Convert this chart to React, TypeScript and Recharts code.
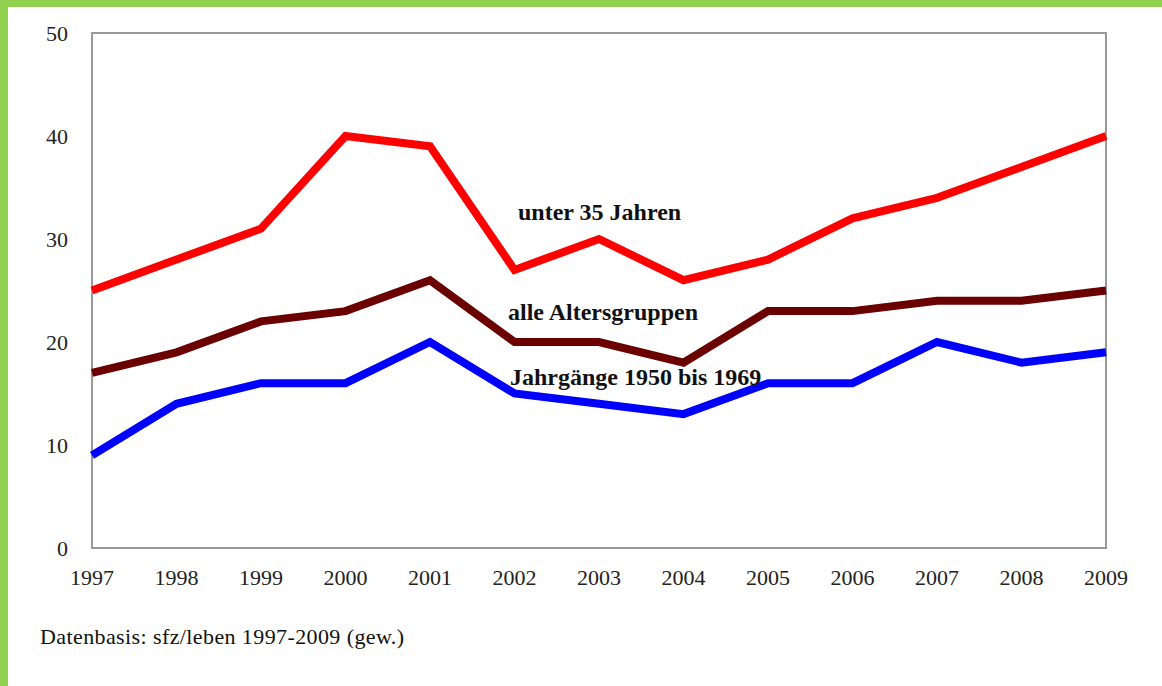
import { LineChart, Line, XAxis, YAxis, ReferenceArea } from 'recharts';

const years = [1997, 1998, 1999, 2000, 2001, 2002, 2003, 2004, 2005, 2006, 2007, 2008, 2009];
const unter35 = [25, 28, 31, 40, 39, 27, 30, 26, 28, 32, 34, 37, 40];
const alleGruppen = [17, 19, 22, 23, 26, 20, 20, 18, 23, 23, 24, 24, 25];
const jahrgaenge = [9, 14, 16, 16, 20, 15, 14, 13, 16, 16, 20, 18, 19];
const yTicks = [0, 10, 20, 30, 40, 50];

const data = years.map((year, i) => ({
  year,
  unter35: unter35[i],
  alle: alleGruppen[i],
  jahrgaenge: jahrgaenge[i],
}));

const serif = '"Liberation Serif", "Times New Roman", serif';
const green = '#92d050';

function Note({ left, top, text }: { left: number; top: number; text: string }) {
  return (
    <div
      style={{
        position: 'absolute',
        left,
        top,
        fontFamily: serif,
        fontWeight: 'bold',
        fontSize: 24,
        color: '#111',
        whiteSpace: 'nowrap',
        lineHeight: '28px',
      }}
    >
      {text}
    </div>
  );
}

export default function App() {
  return (
    <div
      style={{
        position: 'absolute',
        left: 0,
        top: 0,
        width: 1162,
        height: 686,
        background: '#fff',
        overflow: 'hidden',
      }}
    >
      <LineChart
        width={1162}
        height={686}
        data={data}
        margin={{ top: 33, right: 56, bottom: 88, left: 0 }}
      >
        <XAxis
          dataKey="year"
          type="number"
          domain={[1997, 2009]}
          ticks={years}
          interval={0}
          axisLine={false}
          tickLine={false}
          tickSize={0}
          tickMargin={21}
          height={50}
          tick={{ fill: '#222', fontSize: 22, fontFamily: serif }}
        />
        <YAxis
          domain={[0, 50]}
          ticks={yTicks}
          axisLine={false}
          tickLine={false}
          tickSize={0}
          tickMargin={24}
          width={92}
          tick={{ fill: '#222', fontSize: 22, fontFamily: serif }}
        />
        <ReferenceArea
          x1={1997}
          x2={2009}
          y1={0}
          y2={50}
          fill="none"
          stroke="#999"
          strokeWidth={2}
          ifOverflow="visible"
        />
        <Line
          dataKey="unter35"
          stroke="#ff0000"
          strokeWidth={8}
          dot={false}
          isAnimationActive={false}
        />
        <Line
          dataKey="alle"
          stroke="#6b0000"
          strokeWidth={8}
          dot={false}
          isAnimationActive={false}
        />
        <Line
          dataKey="jahrgaenge"
          stroke="#0000ff"
          strokeWidth={8}
          dot={false}
          isAnimationActive={false}
        />
      </LineChart>
      <Note left={518} top={198} text="unter 35 Jahren" />
      <Note left={508} top={298} text="alle Altersgruppen" />
      <Note left={510} top={363} text="Jahrgänge 1950 bis 1969" />
      <div
        style={{
          position: 'absolute',
          left: 40,
          top: 623,
          fontFamily: serif,
          fontSize: 22,
          letterSpacing: 0.4,
          color: '#111',
          whiteSpace: 'nowrap',
          lineHeight: '28px',
        }}
      >
        Datenbasis: sfz/leben 1997-2009 (gew.)
      </div>
      <div style={{ position: 'absolute', left: 0, top: 0, width: 8, height: 686, background: green }} />
      <div style={{ position: 'absolute', left: 0, top: 0, width: 1162, height: 7, background: green }} />
    </div>
  );
}
